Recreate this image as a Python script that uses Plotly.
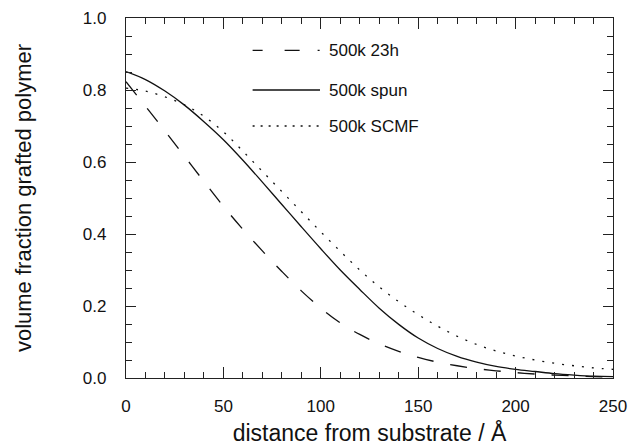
import plotly.graph_objects as go

# distance from substrate (Å)
distance = [0, 10, 20, 30, 40, 50, 60, 70, 80, 90, 100, 110, 120, 130, 140,
            150, 160, 170, 180, 190, 200, 210, 220, 230, 240, 250]

phi_23h = [0.823, 0.755, 0.686, 0.616, 0.546, 0.477, 0.413, 0.353, 0.296, 0.242,
           0.194, 0.153, 0.121, 0.095, 0.074, 0.057, 0.044, 0.034, 0.026, 0.020,
           0.015, 0.011, 0.008, 0.006, 0.004, 0.003]

phi_spun = [0.851, 0.829, 0.797, 0.758, 0.712, 0.662, 0.605, 0.544, 0.482, 0.420,
            0.359, 0.300, 0.246, 0.194, 0.149, 0.111, 0.082, 0.060, 0.044, 0.032,
            0.024, 0.018, 0.012, 0.008, 0.005, 0.004]

phi_scmf = [0.805, 0.797, 0.781, 0.759, 0.727, 0.684, 0.630, 0.574, 0.518, 0.462,
            0.406, 0.352, 0.300, 0.253, 0.212, 0.176, 0.144, 0.116, 0.093, 0.075,
            0.061, 0.050, 0.041, 0.034, 0.028, 0.024]

series_names = ["500k 23h", "500k spun", "500k SCMF"]
series_values = [phi_23h, phi_spun, phi_scmf]
series_dash = ["17px,17px", "solid", "2px,8px"]
legend_dash = ["10px,22px,15px,18px,2px,20px", "solid", "2px,6px"]

# legend placement (data coordinates)
legend_x = [65, 99.6]
legend_text_x = 103
legend_y = [0.91, 0.80, 0.70]

FONT = "Liberation Sans, Arial, Helvetica, sans-serif"

fig = go.Figure()
for name, vals, dash in zip(series_names, series_values, series_dash):
    fig.add_trace(go.Scatter(
        x=distance, y=vals, mode="lines", name=name,
        line=dict(color="#111111", width=1.3, dash=dash, shape="spline", smoothing=1.0),
        showlegend=False, hoverinfo="skip"))

for name, ly, dash in zip(series_names, legend_y, legend_dash):
    fig.add_trace(go.Scatter(
        x=legend_x, y=[ly, ly], mode="lines",
        line=dict(color="#111111", width=1.3, dash=dash),
        showlegend=False, hoverinfo="skip"))
    fig.add_annotation(x=legend_text_x, y=ly, text=name, showarrow=False,
                       xanchor="left", yanchor="middle",
                       font=dict(family=FONT, size=17, color="#111111"))

axis_common = dict(
    showline=True, linecolor="#222222", linewidth=1.4, mirror="allticks",
    ticks="inside", tickcolor="#222222", tickwidth=1.1,
    showgrid=False, zeroline=False,
    tickfont=dict(family=FONT, size=17, color="#111111"),
)

fig.update_xaxes(
    range=[0, 250], tickvals=[0, 50, 100, 150, 200, 250], ticklen=11,
    minor=dict(dtick=10, ticks="inside", ticklen=6, tickcolor="#222222", showgrid=False),
    ticklabelstandoff=12,
    title=dict(text="distance from substrate / Å", standoff=13,
               font=dict(family=FONT, size=23, color="#111111")),
    **axis_common)

fig.update_yaxes(
    range=[0, 1.0], tickvals=[0, 0.2, 0.4, 0.6, 0.8, 1.0], tickformat=".1f",
    ticklen=10,
    minor=dict(dtick=0.05, ticks="inside", ticklen=6, tickcolor="#222222", showgrid=False),
    ticklabelstandoff=15,
    title=dict(text="volume fraction grafted polymer", standoff=45,
               font=dict(family=FONT, size=22, color="#111111")),
    **axis_common)

fig.update_layout(
    width=630, height=446,
    margin=dict(l=126, r=17, t=18, b=68, autoexpand=False),
    paper_bgcolor="white", plot_bgcolor="white",
    showlegend=False,
)

fig.write_html("out.html")
